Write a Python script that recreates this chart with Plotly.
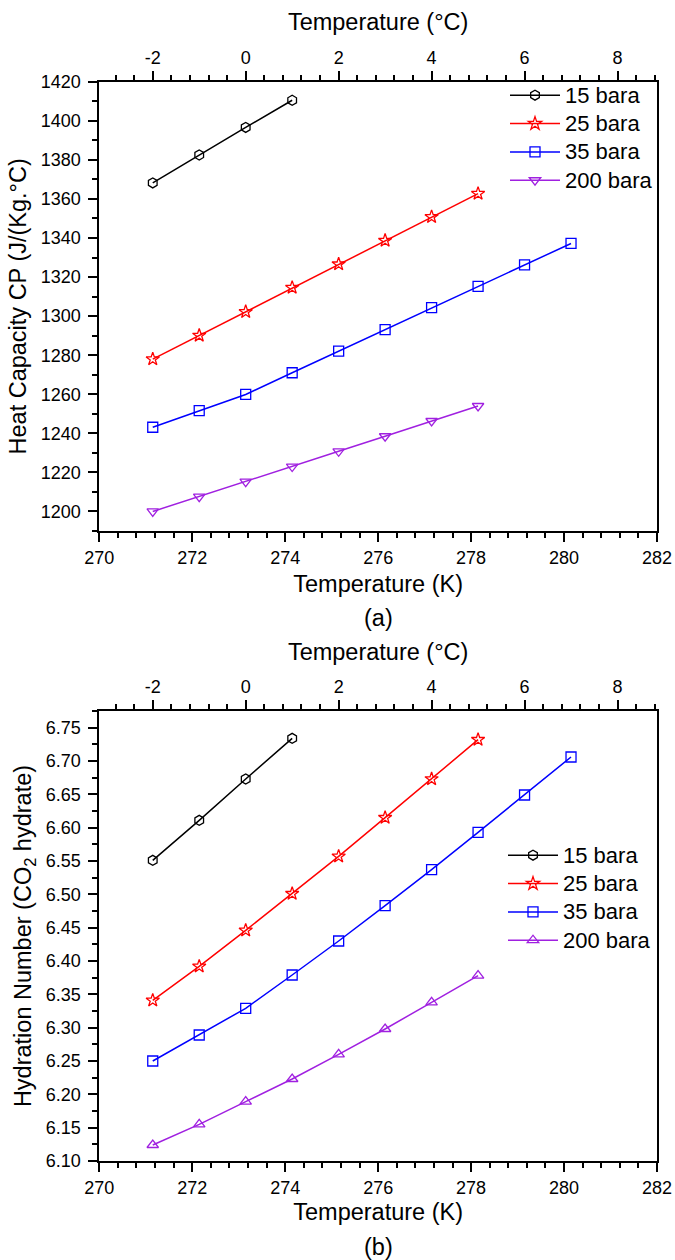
import plotly.graph_objects as go

# ---------------- data ----------------
temp_K = [271.15, 272.15, 273.15, 274.15, 275.15, 276.15, 277.15, 278.15, 279.15, 280.15]
series_names = ["15 bara", "25 bara", "35 bara", "200 bara"]
series_colors = ["#000000", "#FF0000", "#0000FF", "#A020E0"]

cp_15 = [1368.2, 1382.5, 1396.6, 1410.5]
cp_25 = [1278.0, 1290.1, 1302.2, 1314.6, 1326.6, 1338.7, 1350.8, 1362.7]
cp_35 = [1243.1, 1251.6, 1259.9, 1271.0, 1282.1, 1293.1, 1304.3, 1315.2, 1326.2, 1337.2]
cp_200 = [1200.0, 1207.6, 1215.3, 1223.0, 1230.8, 1238.5, 1246.3, 1254.0]

hn_15 = [6.551, 6.611, 6.673, 6.734]
hn_25 = [6.341, 6.392, 6.446, 6.501, 6.557, 6.615, 6.673, 6.732]
hn_35 = [6.250, 6.289, 6.329, 6.379, 6.430, 6.483, 6.537, 6.593, 6.649, 6.706]
hn_200 = [6.124, 6.155, 6.189, 6.223, 6.260, 6.298, 6.338, 6.378]

celsius_ticks = [-2, 0, 2, 4, 6, 8]
celsius_labels = ["-2", "0", "2", "4", "6", "8"]

K_OFFSET = 273.15

# ---------------- layout constants ----------------
W, H = 675, 1260
FONT = "Liberation Sans, Arial, sans-serif"
TICK_FS = 18
TITLE_FS = 23.5
LEG_FS = 19.5
LEG_TEXT_FS = 22

def px_x(p):
    return p / W

def px_y(p):
    return 1 - p / H

dom_x = [px_x(99.3), px_x(657)]
dom_ya = [px_y(531), px_y(81.7)]
dom_yb = [px_y(1161), px_y(711)]

fig = go.Figure()

symbols_a = ["hexagon-open", "star-open", "square-open", "triangle-down-open"]
symbols_b = ["hexagon-open", "star-open", "square-open", "triangle-up-open"]

cp_all = [cp_15, cp_25, cp_35, cp_200]
hn_all = [hn_15, hn_25, hn_35, hn_200]

def leg_name(n):
    return f"<span style='font-size:{LEG_TEXT_FS}px'>{n}</span>"

for name, col, sym, ys in zip(series_names, series_colors, symbols_a, cp_all):
    fig.add_trace(go.Scatter(
        x=temp_K[:len(ys)], y=ys, name=leg_name(name), mode="lines+markers",
        line=dict(color=col, width=1.5),
        marker=dict(symbol=sym, size=10, color=col, line=dict(color=col, width=1.3)),
        xaxis="x", yaxis="y", legend="legend"))

# invisible trace for the top (°C) axis of panel a
fig.add_trace(go.Scatter(x=[t - K_OFFSET for t in temp_K], y=cp_35, mode="markers",
                         marker=dict(opacity=0), showlegend=False, hoverinfo="skip",
                         xaxis="x2", yaxis="y"))

for name, col, sym, ys in zip(series_names, series_colors, symbols_b, hn_all):
    fig.add_trace(go.Scatter(
        x=temp_K[:len(ys)], y=ys, name=leg_name(name), mode="lines+markers",
        line=dict(color=col, width=1.5),
        marker=dict(symbol=sym, size=10, color=col, line=dict(color=col, width=1.3)),
        xaxis="x3", yaxis="y2", legend="legend2"))

fig.add_trace(go.Scatter(x=[t - K_OFFSET for t in temp_K], y=hn_35, mode="markers",
                         marker=dict(opacity=0), showlegend=False, hoverinfo="skip",
                         xaxis="x4", yaxis="y2"))

axis_common = dict(
    showline=True, linecolor="black", linewidth=2,
    ticks="outside", ticklen=9, tickwidth=2, tickcolor="black",
    showgrid=False, zeroline=False, automargin=False,
    tickfont=dict(family=FONT, size=TICK_FS, color="black"),
)
minor_x = dict(dtick=0.4, ticklen=5, tickwidth=2, tickcolor="black", ticks="outside", showgrid=False)
title_font = dict(family=FONT, size=TITLE_FS, color="black")

k_range = [270, 282]
c_range = [k_range[0] - K_OFFSET, k_range[1] - K_OFFSET]

def k_axis(anchor, standoff):
    return dict(axis_common, domain=dom_x, anchor=anchor, range=k_range, dtick=2, tick0=270,
                minor=dict(minor_x, tick0=270),
                title=dict(text="Temperature (K)", font=title_font, standoff=standoff))

def c_axis(overlay, anchor):
    return dict(axis_common, overlaying=overlay, anchor=anchor, side="top", range=c_range,
                tickmode="array", tickvals=celsius_ticks, ticktext=celsius_labels,
                minor=dict(minor_x, tick0=0),
                title=dict(text="Temperature (°C)", font=title_font, standoff=10))

fig.update_layout(
    width=W, height=H,
    margin=dict(l=0, r=0, t=0, b=0),
    paper_bgcolor="white", plot_bgcolor="white",
    font=dict(family=FONT, color="black"),
    xaxis=k_axis("y", 9),
    xaxis2=c_axis("x", "y"),
    yaxis=dict(axis_common, domain=dom_ya, anchor="x", range=[1190, 1420], dtick=20, tick0=1200,
               mirror=True, ticklabelstandoff=4,
               minor=dict(dtick=10, tick0=1200, ticklen=5, tickwidth=2, tickcolor="black", ticks="outside"),
               title=dict(text="Heat Capacity CP (J/(Kg.°C)", font=title_font, standoff=7)),
    xaxis3=k_axis("y2", 7),
    xaxis4=c_axis("x3", "y2"),
    yaxis2=dict(axis_common, domain=dom_yb, anchor="x3", range=[6.10, 6.775], dtick=0.05, tick0=6.10,
                tickformat=".2f", mirror=True, ticklabelstandoff=4,
                minor=dict(dtick=0.025, tick0=6.10, ticklen=5, tickwidth=2, tickcolor="black", ticks="outside"),
                title=dict(text="Hydration Number (CO<sub>2</sub> hydrate)", font=title_font, standoff=7)),
    legend=dict(x=px_x(505), y=px_y(76), xanchor="left", yanchor="top", bgcolor="rgba(0,0,0,0)",
                font=dict(family=FONT, size=LEG_FS, color="black"), itemwidth=50, tracegroupgap=0),
    legend2=dict(x=px_x(503), y=px_y(836), xanchor="left", yanchor="top", bgcolor="rgba(0,0,0,0)",
                 font=dict(family=FONT, size=LEG_FS, color="black"), itemwidth=50, tracegroupgap=0),
    showlegend=True,
    annotations=[
        dict(text="(a)", x=px_x(378), y=px_y(618), xref="paper", yref="paper", showarrow=False,
             font=title_font),
        dict(text="(b)", x=px_x(378), y=px_y(1262), xref="paper", yref="paper", showarrow=False,
             yanchor="bottom", font=title_font),
    ],
)

fig.write_html("out.html", config={"displayModeBar": False},
               post_script="document.body.style.margin='0';document.body.style.padding='0';")
